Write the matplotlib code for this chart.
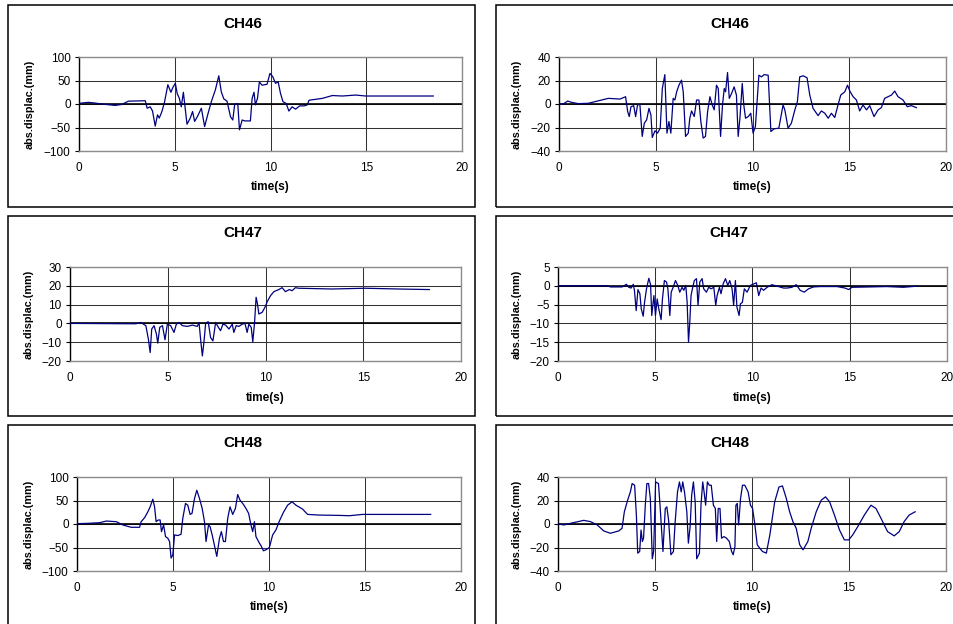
import matplotlib
matplotlib.use("Agg")
import matplotlib.pyplot as plt
from matplotlib.patches import Rectangle

plt.rcParams['font.family'] = ['Liberation Sans', 'DejaVu Sans']

# ---------------- data ----------------
titles = ["CH46", "CH46", "CH47", "CH47", "CH48", "CH48"]
x_ticks = [0, 5, 10, 15, 20]
y_ticks_a = [-100, -50, 0, 50, 100]
y_ticks_b = [-40, -20, 0, 20, 40]
y_ticks_c = [-20, -10, 0, 10, 20, 30]
y_ticks_d = [-20, -15, -10, -5, 0, 5]

t_ch46_a = [0, 0.49, 0.84, 1.19, 1.88, 2.23, 2.58, 3.46, 3.56, 3.72, 3.84, 3.98, 4.10, 4.19, 4.33,
            4.47, 4.64, 4.80, 4.90, 5.03, 5.13, 5.24, 5.34, 5.45, 5.64, 5.81, 5.93, 6.04, 6.18,
            6.39, 6.56, 6.74, 6.91, 7.12, 7.30, 7.43, 7.56, 7.73, 7.91, 8.03, 8.13, 8.29, 8.38,
            8.52, 8.66, 8.95, 9.04, 9.14, 9.21, 9.32, 9.42, 9.56, 9.82, 9.97, 10.12, 10.26, 10.40,
            10.52, 10.65, 10.82, 10.96, 11.13, 11.31, 11.52, 11.75, 11.92, 12.01, 12.71, 13.23,
            13.75, 14.45, 14.97, 18.5]
d_ch46_a = [1.4, 3.5, 2, 0, -3, -1, 6, 7, -9, -6, -15, -47, -23, -30, -16,
            5, 41, 25, 35, 44, 22, 12, -6, 25, -43, -30, -16, -37, -27,
            -9, -48, -20, 5, 30, 60, 26, 11, 6, -27, -34, -1, 1, -55,
            -34, -36, -36, 12, 25, -2, 12, 47, 40, 42, 65, 58, 44, 47,
            23, 5, 1, -15, -6, -11, -4, -4, -2, 8, 12, 18,
            17, 19, 17, 17]

t_ch46_b = [0, 0.22, 0.45, 0.65, 1.0, 1.51, 1.86, 2.55, 3.15, 3.44, 3.55, 3.63, 3.72, 3.86, 3.96,
            4.06, 4.18, 4.30, 4.41, 4.53, 4.65, 4.75, 4.82, 4.96, 5.09, 5.23, 5.34, 5.47, 5.58,
            5.68, 5.78, 5.90, 5.99, 6.08, 6.20, 6.33, 6.42, 6.54, 6.68, 6.76, 6.85, 6.99, 7.11,
            7.23, 7.33, 7.45, 7.57, 7.68, 7.80, 7.92, 8.02, 8.14, 8.23, 8.35, 8.45, 8.54, 8.61,
            8.71, 8.80, 8.92, 9.05, 9.17, 9.26, 9.35, 9.47, 9.55, 9.64, 9.78, 9.91, 10.03, 10.15,
            10.26, 10.33, 10.46, 10.60, 10.81, 10.95, 11.12, 11.36, 11.58, 11.67, 11.84, 12.01,
            12.19, 12.32, 12.44, 12.62, 12.82, 12.96, 13.13, 13.39, 13.56, 13.74, 13.91, 14.08,
            14.25, 14.42, 14.56, 14.77, 14.91, 15.03, 15.20, 15.37, 15.54, 15.71, 15.89, 16.06,
            16.28, 16.49, 16.66, 16.83, 17.18, 17.35, 17.52, 17.78, 18.0, 18.21, 18.47]
d_ch46_b = [0, 0, 2.5, 1.4, 0.3, 0.6, 2, 4.8, 4.2, 6.2, -6.5, -10.7, -2.3, -1.4, -10.7,
            -0.8, -0.3, -27.6, -16.3, -13.5, -3.7, -9.3, -28.5, -22.8, -24.8, -20.6, 13.2, 25, -24.8,
            -14.9, -24.8, 4.8, 3.4, 10.4, 16, 20.3, 10.4, -27.6, -24.8, -12.1, -5.9, -10.7, 3.4,
            3.4, -14.9, -29, -27.6, -6.5, 6.2, -0.8, -5, 16, 13.2, -27.6, -0.8, 13.2, 10.4,
            26.8, 4.8, 9, 14.6, 7.6, -27.6, -12.1, 17.5, -0.8, -12.1, -10.7, -7.9, -24.8, -19.2,
            7.6, 24.5, 23.1, 25, 24.5, -23.4, -21.1, -20.6, -0.8, -5, -20.6, -16.3,
            -5, 2, 23.1, 24, 22.3, 7.6, -3.7, -9.9, -5.9, -7.9, -12.1, -7.9,
            -11.5, -0.8, 7.6, 10.4, 16, 11, 6.2, 3.4, -5.9, -0.8, -5, -1.4,
            -10.7, -5, -3.1, 4.8, 7.6, 11, 6.2, 3.4, -2.3, -1.4, -3.1]

t_ch47_a = [0, 3.37, 3.62, 3.88, 4.01, 4.10, 4.18, 4.30, 4.42, 4.49, 4.59, 4.73, 4.86, 4.98, 5.15,
            5.32, 5.44, 5.58, 5.75, 6.0, 6.26, 6.51, 6.6, 6.68, 6.77, 6.85, 6.94, 7.07, 7.19, 7.31,
            7.45, 7.59, 7.70, 7.82, 7.96, 8.13, 8.30, 8.38, 8.50, 8.64, 8.81, 8.95, 9.06, 9.15,
            9.27, 9.35, 9.44, 9.52, 9.59, 9.66, 9.83, 9.97, 10.09, 10.26, 10.43, 10.68, 10.85,
            11.02, 11.22, 11.36, 11.53, 11.70, 13.4, 15.1, 16.8, 18.38]
d_ch47_a = [0, -0.2, 0.5, -1.2, -8.4, -15.5, -3, -1.2, -5.7, -10.5, -2.1, -1.2, -8.7, -0.4, -1.2,
            -4.8, -0.4, 0.5, -1.2, -1.6, -0.9, -1.6, 0.5, -8.4, -17.3, -10.1, 0.2, 0.9, -7.5, -9.3,
            0.5, -2.1, -3.9, -0.4, -0.9, -3, -0.4, -4.8, -1.2, -1.6, -0.4, 0, -4.8, -0.4,
            -2.1, -9.8, 0.5, 13.9, 10.3, 5, 5.9, 8.5, 11.6, 14.8, 16.9, 18, 19,
            16.9, 18, 17.4, 19, 18.7, 18.3, 18.7, 18.3, 18]

t_ch47_b = [0, 2.53, 2.70, 3.30, 3.52, 3.64, 3.76, 3.87, 3.93, 4.02, 4.11, 4.21, 4.28, 4.38, 4.45,
            4.55, 4.67, 4.76, 4.82, 4.93, 5.01, 5.10, 5.18, 5.30, 5.37, 5.47, 5.58, 5.65, 5.75,
            5.82, 5.92, 6.04, 6.16, 6.26, 6.38, 6.47, 6.57, 6.64, 6.71, 6.78, 6.84, 6.91, 7.01,
            7.12, 7.20, 7.29, 7.41, 7.49, 7.63, 7.75, 7.87, 8.01, 8.11, 8.18, 8.30, 8.38, 8.49,
            8.61, 8.73, 8.83, 8.95, 9.03, 9.12, 9.20, 9.31, 9.38, 9.48, 9.58, 9.72, 9.89, 10.06,
            10.20, 10.32, 10.44, 10.57, 10.75, 11.0, 11.26, 11.60, 11.77, 12.03, 12.25, 12.45,
            12.66, 12.88, 13.14, 13.48, 14.34, 14.76, 14.94, 15.11, 16.05, 16.9, 17.76, 18.44]
d_ch47_b = [0, 0, -0.3, -0.3, 0.4, -0.4, -0.6, 0.4, -1.2, -6.6, -1, -2.1, -6.1, -8.1, -4.4,
            -0.8, 2, 0.3, -7.9, -2.6, -7.9, -3.5, -6.1, -9, -3.5, 1.4, 1, -0.8, -7.9,
            -1.7, -0.4, 1.4, 0.1, -1.7, -0.4, -1.2, 0.1, -4.4, -15, -9.3, -2.6, -0.8, 1.4,
            1.9, -5.2, 1, 1.9, -0.8, -1.7, -0.4, -0.8, -0.4, -5.2, -2.6, -0.4, -2.1, 0.5,
            1.9, 0.1, 1.4, -0.8, -5.2, 1.4, -5.7, -7.9, -4.8, -4.4, -0.8, -1.7, 0.1, 0.5,
            0.8, -2.6, -0.6, -1.2, -0.4, 0.3, -0.1, -0.6, -0.6, -0.4, 0.3, -1.2,
            -1.7, -0.8, -0.3, -0.2, -0.2, -0.6, -1, -0.4, -0.3, -0.2, -0.4, -0.1]

t_ch48_a = [0, 0.57, 1.18, 1.53, 2.05, 2.39, 2.82, 3.26, 3.34, 3.52, 3.69, 3.81, 3.95, 4.04, 4.12,
            4.23, 4.33, 4.40, 4.51, 4.61, 4.73, 4.82, 4.90, 4.99, 5.08, 5.25, 5.42, 5.51, 5.65,
            5.77, 5.89, 5.99, 6.12, 6.24, 6.38, 6.52, 6.64, 6.72, 6.85, 6.93, 7.04, 7.16, 7.28,
            7.42, 7.52, 7.63, 7.73, 7.85, 7.97, 8.11, 8.25, 8.37, 8.49, 8.67, 8.80, 8.94, 9.06,
            9.15, 9.24, 9.32, 9.50, 9.58, 9.71, 9.84, 10.02, 10.19, 10.36, 10.54, 10.75, 10.97,
            11.20, 11.40, 11.75, 12.01, 12.62, 13.66, 14.18, 14.87, 18.42]
d_ch48_a = [0.7, 1.4, 2.8, 6.3, 4.9, -2.1, -7, -7, 4.9, 13.4, 26, 36.6, 52.8, 36.6, 4.9,
            8.5, 8.5, -16.2, -2.1, -26.8, -30.3, -37.3, -72.5, -65.5, -23.2, -24.6, -21.8, 12, 43.7,
            40.1, 20.4, 22.5, 54.2, 71.8, 54.2, 33.1, 4.9, -37.3, -2.1, -5.6, -23.2, -45.8, -69,
            -30.3, -16.2, -37.3, -37.3, 12, 36.6, 20.4, 33.1, 62.7, 50.7, 41.5, 33.1, 22.5, -2.1,
            -16.2, 4.9, -26.8, -40.8, -45.8, -57, -54.9, -50, -23.2, -12.7, 6.3, 24.6, 40.1,
            47.2, 40.1, 31.7, 20.4, 19, 18.3, 17.6, 20.4, 20.4]

t_ch48_b = [0, 0.31, 0.65, 1.33, 1.68, 2.02, 2.36, 2.70, 3.13, 3.30, 3.42, 3.59, 3.73, 3.82, 3.95,
            4.04, 4.11, 4.21, 4.28, 4.35, 4.41, 4.50, 4.58, 4.67, 4.76, 4.86, 4.93, 5.03, 5.18,
            5.27, 5.41, 5.53, 5.61, 5.70, 5.82, 5.95, 6.04, 6.16, 6.26, 6.35, 6.43, 6.52, 6.64,
            6.72, 6.81, 6.89, 6.98, 7.07, 7.15, 7.29, 7.37, 7.46, 7.53, 7.61, 7.70, 7.80, 7.90,
            8.01, 8.11, 8.18, 8.26, 8.35, 8.43, 8.55, 8.69, 8.83, 8.95, 9.03, 9.12, 9.17, 9.24,
            9.31, 9.41, 9.51, 9.63, 9.80, 9.92, 10.03, 10.15, 10.27, 10.40, 10.54, 10.74, 10.92,
            11.17, 11.39, 11.57, 11.77, 11.94, 12.11, 12.28, 12.46, 12.63, 12.88, 13.05, 13.31,
            13.57, 13.79, 14.0, 14.25, 14.51, 14.76, 14.99, 15.19, 15.45, 15.79, 16.13, 16.39,
            16.65, 16.99, 17.33, 17.59, 17.84, 18.10, 18.41]
d_ch48_b = [0, -0.8, 0.6, 3.1, 2, -0.8, -5.9, -7.9, -5.9, -3.7, 10.4, 20.3, 27.3, 34.4, 33,
            7.6, -24.8, -23.4, -5.1, -14.9, -12.1, 16, 34.4, 34.4, 21.7, -29.6, -23.4, 35.8, 34.4,
            13.2, -23.4, 13.2, 14.6, 3.4, -26.2, -23.4, 2, 27.3, 35.8, 27.3, 35.8, 27.3, 10.4,
            -16.3, -2.3, 24.5, 35.8, 18.9, -29.6, -24.8, 16, 35.8, 27.3, 16, 35.8, 33, 33,
            16, 13.2, -14.9, 13.2, 13.2, -12.1, -10.7, -12.1, -14.9, -23.4, -26.2, -19.2, 16, 17.5,
            -0.8, 21.7, 33, 33, 27.3, 16, 13.2, -0.8, -17.7, -20.6, -23.4, -24.8, -9.3,
            18.9, 31.5, 32.4, 21.7, 10.4, 2, -3.7, -17.7, -22, -14.9, -3.7, 10.4,
            20.3, 23.1, 18.9, 7.6, -5.1, -13.5, -13.5, -9.3, -2.3, 7.6, 16, 13.2,
            4.8, -6.5, -10.1, -6.5, 2, 7.6, 10.4]

series_t = [t_ch46_a, t_ch46_b, t_ch47_a, t_ch47_b, t_ch48_a, t_ch48_b]
series_d = [d_ch46_a, d_ch46_b, d_ch47_a, d_ch47_b, d_ch48_a, d_ch48_b]
series_yticks = [y_ticks_a, y_ticks_b, y_ticks_c, y_ticks_d, y_ticks_a, y_ticks_b]

# ---------------- layout (pixels) ----------------
W, H = 954, 624
fig = plt.figure(figsize=(W / 100, H / 100), dpi=100)

# plot area rectangles: (left, top, right, bottom) in px
areas = [(79, 57, 462, 151), (559, 57, 946, 151),
         (70, 267, 461, 361), (558, 267, 947, 361),
         (77, 477, 461, 571), (558, 477, 946, 571)]
boxes = [(8, 5, 475, 207), (496, 5, 964, 207),
         (8, 216, 475, 416), (496, 216, 964, 416),
         (8, 425, 475, 640), (496, 425, 964, 640)]
title_pos = [(243, 24), (730, 24), (243, 233), (729, 233), (243, 443), (730, 443)]
ylabel_x = [30, 517, 29, 517, 29, 517]
xlabel_y = [187, 187, 398, 398, 607, 607]

for (l, t, r, b) in boxes:
    fig.patches.append(Rectangle((l / W, 1 - b / H), (r - l) / W, (b - t) / H,
                                 transform=fig.transFigure, fill=False,
                                 edgecolor='black', linewidth=1.1, clip_on=False))

for i in range(6):
    l, t, r, b = areas[i]
    ax = fig.add_axes([l / W, 1 - b / H, (r - l) / W, (b - t) / H])
    yt = series_yticks[i]
    ax.set_xlim(x_ticks[0], x_ticks[-1])
    ax.set_ylim(yt[0], yt[-1])
    ax.set_xticks(x_ticks)
    ax.set_yticks(yt)
    ax.grid(True, color='#333333', linewidth=0.75)
    ax.set_axisbelow(True)
    ax.axhline(0, color='black', linewidth=1.2, zorder=1.5)
    ax.plot(series_t[i], series_d[i], color='#000080', linewidth=0.9, zorder=3)
    for side in ['top', 'right', 'bottom']:
        ax.spines[side].set_color('#8c8c8c')
        ax.spines[side].set_linewidth(1.0)
    ax.spines['left'].set_color('black')
    ax.spines['left'].set_linewidth(1.0)
    ax.tick_params(axis='x', length=0, pad=8, labelsize=8.5)
    ax.tick_params(axis='y', length=3, width=0.8, pad=3, labelsize=8.5)
    ax.set_xlabel('time(s)', fontsize=8.5, fontweight='bold')
    ax.set_ylabel('abs.displac.(mm)', fontsize=7.8, fontweight='bold')
    ax.xaxis.set_label_coords(0.5, (b - xlabel_y[i]) / (b - t))
    ax.xaxis.label.set_va('center')
    ax.yaxis.set_label_coords((ylabel_x[i] - l) / (r - l), 0.5)
    ax.yaxis.label.set_va('center')
    tx, ty = title_pos[i]
    fig.text(tx / W, 1 - ty / H, titles[i], ha='center', va='center',
             fontsize=11, fontweight='bold')

fig.savefig('out.png', dpi=100, facecolor='white')
